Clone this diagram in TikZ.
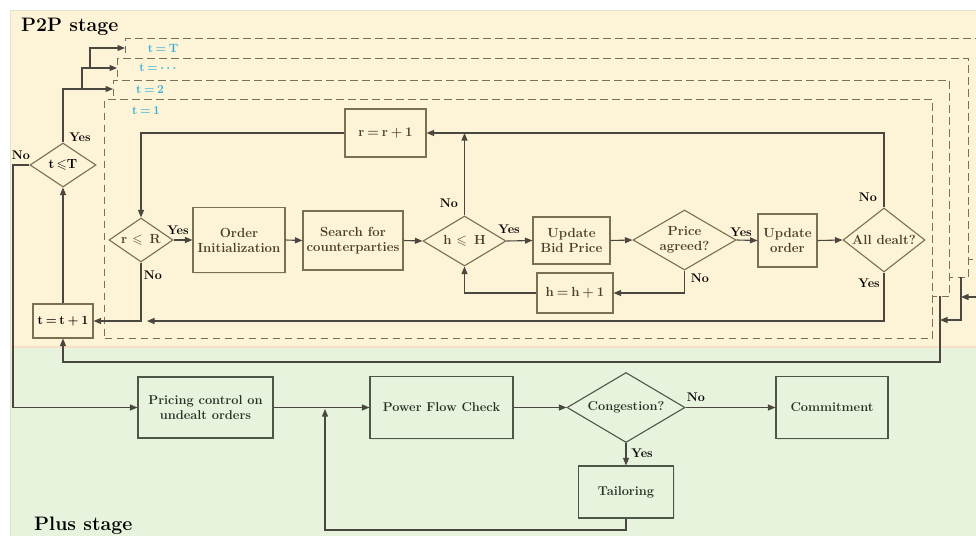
\documentclass[tikz,border=0pt]{standalone}
\usepackage{amsmath,amssymb}
\usetikzlibrary{arrows.meta,shapes.geometric,shadows}

\definecolor{creambg}{HTML}{FDF3D6}
\definecolor{greenbg}{HTML}{E7F3DD}
\definecolor{edgefaint}{HTML}{E2E4CC}
\definecolor{seam}{HTML}{F4E0C2}
\definecolor{framec}{HTML}{7A7055}
\definecolor{boxline}{HTML}{7A6F50}
\definecolor{boxtext}{HTML}{4A402A}
\definecolor{linec}{HTML}{4A4740}
\definecolor{gline}{HTML}{4E5648}
\definecolor{gtext}{HTML}{263024}
\definecolor{tblue}{HTML}{33AEDB}

\newcommand\bxf{\fontsize{13.2}{15}\selectfont\bfseries}
\newcommand\gxf{\fontsize{12.8}{14.5}\selectfont\bfseries}
\newcommand\ynf{\fontsize{12.5}{14}\selectfont\bfseries}
\newcommand\ttlf{\fontsize{19.5}{22}\selectfont\bfseries}
\newcommand\nsp{\hspace{0.22em}}

\begin{document}
\begin{tikzpicture}[x=1pt,y=-1pt,
  box/.style={rectangle, draw=boxline, line width=1.1pt, fill=creambg,
    inner sep=0pt, align=center, font=\bxf, text=boxtext,
    drop shadow={shadow xshift=1.2pt, shadow yshift=-1.2pt, opacity=0.12}},
  gbox/.style={box, draw=gline, fill=greenbg, text=gtext, font=\gxf},
  dia/.style={diamond, draw=boxline, line width=1.1pt, fill=creambg,
    inner sep=0pt},
  gdia/.style={dia, draw=gline, fill=greenbg},
  dtext/.style={inner sep=0pt, align=center, font=\bxf, text=boxtext},
  gdtext/.style={dtext, font=\gxf, text=gtext},
  conn/.style={draw=linec, line width=1.1pt,
    -{Triangle[length=7.5pt,width=6pt]}},
  tframe/.style={rectangle, draw=framec, line width=1.4pt,
    dash pattern=on 7.5pt off 4.5pt, fill=creambg, inner sep=0pt, anchor=north west},
  tlabel/.style={font=\fontsize{12}{14}\selectfont\bfseries, text=tblue, inner sep=0pt},
  yn/.style={font=\ynf, text=black, inner sep=0pt},
  title/.style={font=\ttlf, text=black, inner sep=0pt, anchor=base west}
]
\path[use as bounding box] (0,0) rectangle (976,535);
\clip (0,0) rectangle (976,535);

% stage backgrounds
\fill[white] (0,0) rectangle (976,535);
\fill[greenbg] (10,347) rectangle (990,545);
\fill[creambg] (10,10) rectangle (990,347);
\draw[edgefaint, line width=0.8pt] (10,545) -- (10,10) -- (990,10);
\draw[seam, line width=1.5pt] (10,347) -- (990,347);

\node[title] (p2ptitle) at (21,32) {P2P stage};
\node[title] (plustitle) at (34,530) {Plus stage};

% stacked time-step frames, outermost first
\node[tframe, minimum width=870, minimum height=221] (fT) at (125,38) {};
\node[tlabel] (lT) at (163,48) {t\nsp=\nsp T};
\node[tframe, minimum width=851, minimum height=219] (fD) at (117,58) {};
\node[tlabel] (lD) at (159,68) {t\nsp=\nsp$\boldsymbol{\cdots}$};
\node[tframe, minimum width=836, minimum height=216] (f2) at (113,80) {};
\node[tlabel] (l2) at (150,90) {t\nsp=\nsp 2};
\node[tframe, minimum width=828, minimum height=239] (f1) at (104,99) {};
\node[tlabel] (l1) at (146,111) {t\nsp=\nsp 1};

% P2P stage nodes
\node[dia, minimum width=66, minimum height=44,
  label={[dtext, text=black]center:t\,$\leqslant$T}] (tle) at (63,165) {};
\node[box, text=black, font=\fontsize{12.5}{14}\selectfont\bfseries,
  minimum width=60, minimum height=34] (tinc) at (63,321) {t\nsp=\nsp t\nsp+\nsp 1};
\node[dia, minimum width=64, minimum height=44,
  label={[dtext]center:r $\leqslant$\, R}] (rle) at (141,240) {};
\node[box, minimum width=92, minimum height=65] (oi) at (239,240) {Order\\Initialization};
\node[box, minimum width=100, minimum height=59] (sc) at (353,240.5) {Search for\\counterparties};
\node[dia, minimum width=83, minimum height=50,
  label={[dtext]center:h $\leqslant$\, H}] (hle) at (464.5,241) {};
\node[box, minimum width=77, minimum height=47] (ubp) at (571.5,240.5) {Update\\Bid Price};
\node[dia, minimum width=103, minimum height=60,
  label={[dtext]center:Price\\agreed?}] (pa) at (684.5,240) {};
\node[box, minimum width=59, minimum height=53] (uo) at (787.5,240.5) {Update\\order};
\node[dia, minimum width=82, minimum height=64,
  label={[dtext]center:All dealt?}] (ad) at (884,240) {};
\node[box, minimum width=81, minimum height=48] (rinc) at (385.5,133) {r\nsp=\nsp r\nsp+\nsp 1};
\node[box, minimum width=76, minimum height=40] (hinc) at (575,293) {h\nsp=\nsp h\nsp+\nsp 1};

% Plus stage nodes
\node[gbox, minimum width=135, minimum height=61] (pc) at (205.5,407.5) {Pricing control on\\undealt orders};
\node[gbox, minimum width=143, minimum height=62] (pfc) at (441.5,407.5) {Power Flow Check};
\node[gdia, minimum width=118, minimum height=70,
  label={[gdtext]center:Congestion?}] (cg) at (626,407.5) {};
\node[gbox, minimum width=112, minimum height=62] (cm) at (832,407.5) {Commitment};
\node[gbox, minimum width=95, minimum height=52] (tl) at (626,492) {Tailoring};

% junction points
\coordinate (yesA) at (82,89);
\coordinate (yesB) at (90,68);
\coordinate (noL) at (13,165);
\coordinate (adEnd) at (147,321);
\coordinate (f2out) at (940,296);
\coordinate (backR) at (940,362);
\coordinate (fDout) at (961,277);
\coordinate (fDin) at (961,320);
\coordinate (mergeA) at (940,320);
\coordinate (fTout) at (985,259);
\coordinate (mergeB) at (961,297);
\coordinate (tlLow) at (626,530);
\coordinate (mergeC) at (325,409);

% P2P stage connectors
\draw[conn] (rle.east) -- (oi.west);
\draw[conn] (oi.east) -- (sc.west);
\draw[conn] (sc.east) -- (hle.west);
\draw[conn] (hle.east) -- (ubp.west);
\draw[conn] (ubp.east) -- (pa.west);
\draw[conn] (pa.east) -- (uo.west);
\draw[conn] (uo.east) -- (ad.west);
\draw[conn] (ad.north) |- (rinc.east);
\draw[conn] (rinc.west) -| (rle.north);
\draw[conn] (hle.north) -- (hle.north |- rinc.east);
\draw[conn] (pa.south) |- (hinc.east);
\draw[conn] (hinc.west) -| (hle.south);
\draw[conn] (ad.south) |- (adEnd);
\draw[conn] (rle.south) |- (tinc.east);
\draw[conn] (tinc.north) -- (tle.south);
\draw[conn] (tle.north) |- ([yshift=-9pt]f2.north west);
\draw[conn] (yesA) |- ([yshift=-10pt]fD.north west);
\draw[conn] (yesB) |- ([yshift=-10pt]fT.north west);
\draw[conn] (tle.west) -- (noL) |- (pc.west);
\draw[conn] (f2out) -- (backR) -| (tinc.south);
\draw[conn] (fDout) -- (fDin) -- (mergeA);
\draw[conn] (fTout) |- (mergeB);

% Plus stage connectors
\draw[conn] (pc.east) -- (pfc.west);
\draw[conn] (pfc.east) -- (cg.west);
\draw[conn] (cg.east) -- (cm.west);
\draw[conn] (cg.south) -- (tl.north);
\draw[conn] (tl.south) -- (tlLow) -| (mergeC);

% branch labels
\node[yn] (yT) at (80,137) {Yes};
\node[yn] (nT) at (21,155) {No};
\node[yn] (yR) at (178,230) {Yes};
\node[yn] (nR) at (153,275) {No};
\node[yn] (nH) at (449,203) {No};
\node[yn] (yH) at (509,229) {Yes};
\node[yn] (yP) at (741,232) {Yes};
\node[yn] (nP) at (700,278) {No};
\node[yn] (nA) at (868,197) {No};
\node[yn] (yA) at (869,283) {Yes};
\node[yn] (nC) at (696,397) {No};
\node[yn] (yC) at (642,453) {Yes};
\end{tikzpicture}
\end{document}
